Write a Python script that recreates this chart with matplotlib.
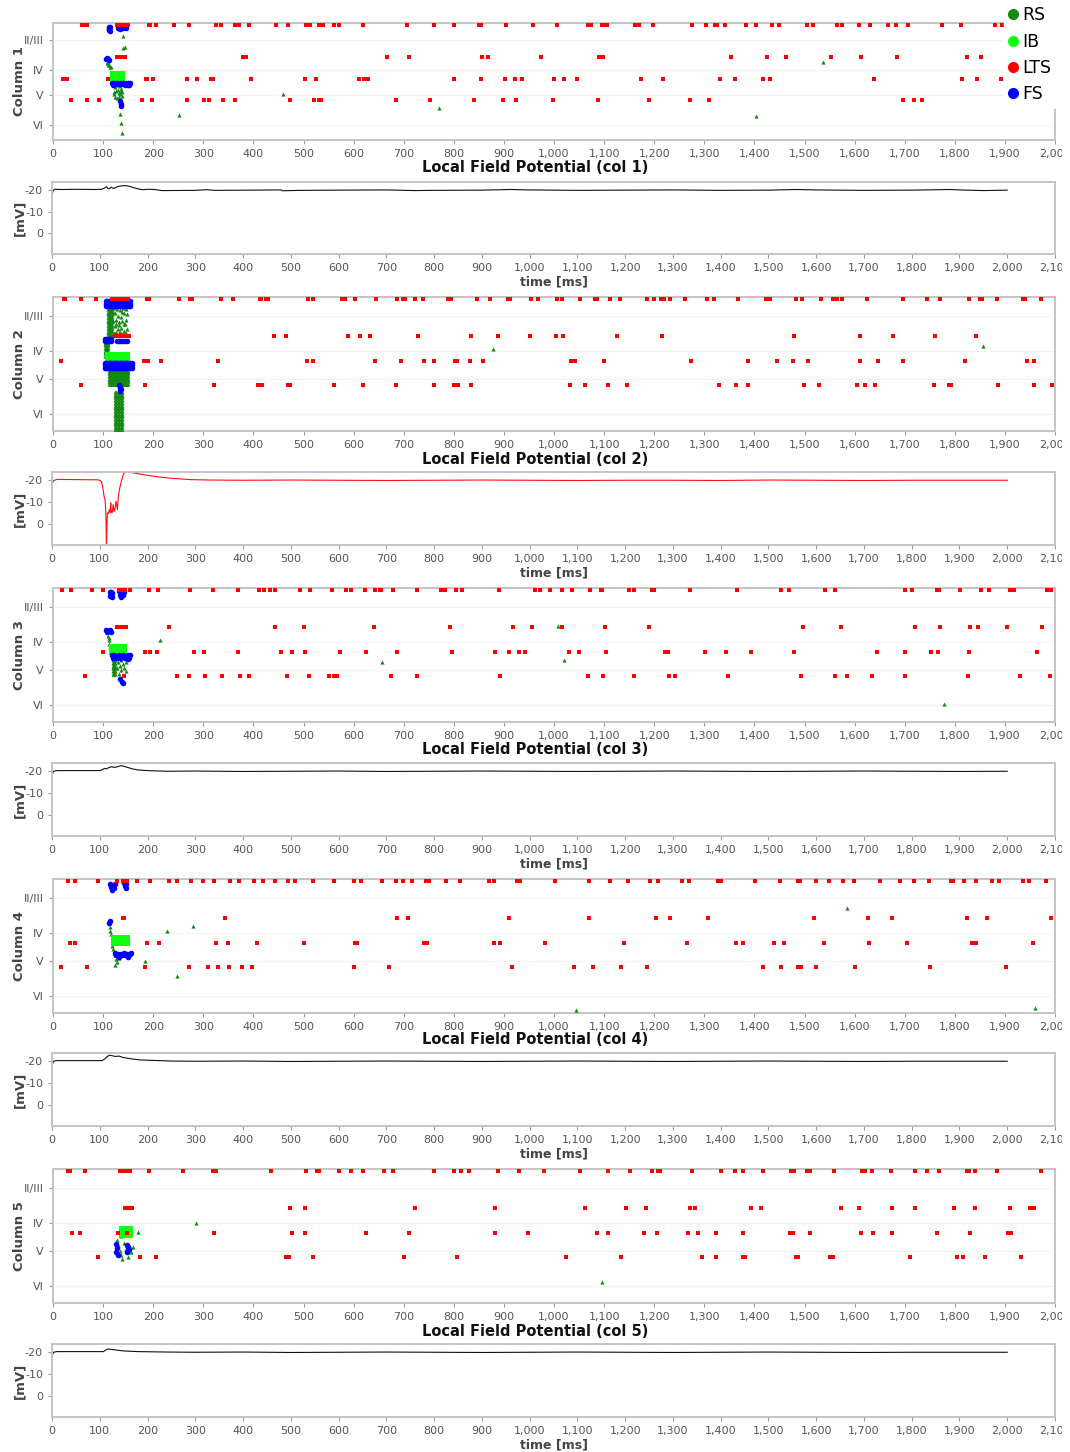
import matplotlib
matplotlib.use("Agg")
import matplotlib.pyplot as plt
from matplotlib.lines import Line2D
from matplotlib.ticker import FuncFormatter
from matplotlib.transforms import Bbox, TransformedBbox

plt.rcParams["axes.unicode_minus"] = False
plt.rcParams["font.family"] = "DejaVu Sans"

W, H = 1070, 1452

# cortical layers on the depth axis (0 = top of column, 100 = bottom)
layer_names = ["II/III", "IV", "V", "VI"]
layer_depths = [14.2, 40, 61.5, 87]

# depth of the four rows of LTS cells
lts_row_depths = [1.6, 29, 48, 66]

# ---------------- column 1 ----------------
col1_lts = [
    [58.5, 66.5, 68.5, 128, 130, 132, 134, 136, 138, 140, 142, 144, 146, 148, 150, 191.3, 194.6,
     205.2, 242.4, 271, 324.8, 334.7, 362.6, 370.6, 390.5, 445.6, 468.9, 504, 512.7, 531.3, 539.2,
     561.2, 571.8, 619.6, 706.6, 759.7, 800.2, 850.6, 854.6, 905.1, 957.5, 1006, 1067.7, 1074.5,
     1095.6, 1100.3, 1105.6, 1162.1, 1170, 1197.2, 1275.6, 1302.8, 1321.4, 1324.7, 1342, 1383.8,
     1402.4, 1434.2, 1449, 1504.8, 1517.3, 1564.5, 1575.7, 1608.3, 1630.2, 1666.1, 1683.2, 1706.5,
     1774.3, 1811.5, 1881.2, 1894.5],
    [128, 130, 132, 134, 136, 138, 140, 142, 144, 378.5, 385.5, 666, 711.2, 856, 868.6, 974.2,
     1089, 1097.7, 1353.3, 1425.7, 1462.2, 1553.2, 1613, 1684.6, 1823.5, 1852],
    [20, 26.6, 28.6, 109, 184.7, 186.7, 200, 267, 288.3, 316.2, 319.5, 395.2, 503.4, 525.3, 610.3,
     621.6, 629.6, 800.9, 854, 901.2, 922.4, 935.7, 1000.1, 1020.6, 1045.9, 1173.4, 1217.2, 1332,
     1360.6, 1417.7, 1431, 1639.5, 1814.2, 1843.4, 1891.9],
    [36.6, 67.8, 91, 177.4, 197.3, 267, 300.9, 311.5, 339.4, 363.3, 472.8, 520, 530, 535.3, 684.6,
     751.7, 840.7, 897.8, 924.3, 998.7, 1087, 1189.3, 1271.6, 1310.2, 1695.9, 1717.8, 1735.1],
]
col1_rs = [(107, 34), (109.6, 36), (113, 38), (116.3, 38), (110, 33), (112, 36), (139.5, 10.8),
           (139.5, 21.1), (142.8, 20.5), (121, 52), (123, 55), (125, 58), (122, 61), (124, 63),
           (127, 53), (129, 57), (131, 60), (128, 64), (133, 54), (135, 58), (137, 62), (139, 52),
           (126, 50), (132, 63), (136, 56), (121, 59), (138, 59), (130, 51), (134, 61),
           (133.5, 77.8), (134.9, 85.2), (137.5, 94.3), (252.4, 78.6), (458.3, 60.4),
           (769.6, 72.6), (1402.4, 79.2), (1536, 33.6)]
col1_ib_t = [120, 122, 124, 126, 128, 130, 132, 134, 136, 138]
col1_ib_d = [44, 46, 48]
col1_fs = [(111, 3), (112, 5), (113, 7), (112, 4), (111, 6), (113, 3), (129, 4), (131, 3), (134, 5),
           (137, 3), (140, 4), (143, 3), (146, 4), (133, 2), (106, 31), (108, 30), (110, 31),
           (112, 32), (117, 51), (119, 53), (121, 51), (124, 52), (127, 51), (130, 52), (133, 51),
           (136, 52), (139, 51), (142, 52), (145, 51), (148, 52), (150, 51), (152, 53), (154, 51),
           (149, 53), (144, 53), (134, 67), (136, 69), (135, 71)]

# ---------------- column 2 ----------------
col2_lts = [
    [21.3, 24.6, 56.5, 85, 118, 120, 122, 124, 126, 128, 130, 132, 134, 136, 138, 140, 142, 144,
     146, 148, 150, 187.3, 191.9, 251, 273, 277, 335.4, 359.2, 412.4, 414.4, 424.4, 428.3, 508.7,
     518, 577.1, 583.7, 603.6, 644.8, 686.6, 699.2, 703.2, 722.5, 737.8, 788.9, 793.6, 847.3,
     871.3, 909.1, 912.5, 955, 968.3, 1006.8, 1016.7, 1052.6, 1081.1, 1086.4, 1111, 1132.3,
     1185.3, 1199.2, 1214.5, 1219.1, 1232.4, 1261, 1305.6, 1319.5, 1366.5, 1423.7, 1430.3, 1484,
     1496, 1533.8, 1557.7, 1560.5, 1565.1, 1575.1, 1624.9, 1697.2, 1744.4, 1769.7, 1828.7, 1850,
     1854, 1885.2, 1935.6, 1941, 1972.1],
    [123, 125, 127, 129, 131, 133, 135, 137, 139, 141, 143, 145, 147, 149, 151, 441.6, 465.5,
     588.4, 612.3, 632.9, 729.2, 834.1, 887.9, 952.3, 1004, 1018.7, 1125.6, 1215.2, 1479.5,
     1611.6, 1677.4, 1760.4, 1842.7],
    [15.4, 182, 184, 186, 188, 189, 215.9, 328.7, 506, 519.4, 643.5, 694, 740.5, 760.4, 802.2,
     806.9, 831.5, 858, 1033.9, 1042.6, 1099.7, 1274.3, 1387.8, 1445.6, 1476.2, 1506.7, 1611.6,
     1647.5, 1695.9, 1820.1, 1944.9, 1958.2],
    [55.2, 183.3, 320.8, 409.1, 417.1, 468.2, 473.5, 561.2, 618.3, 685.3, 761.1, 800.9, 808.8,
     834.7, 1031.3, 1061.8, 1107.6, 1145.5, 1328.8, 1364, 1386.6, 1498.1, 1528, 1605.7, 1621.7,
     1641.6, 1758.4, 1787.6, 1791.6, 1886.6, 1958.2, 1994],
]
col2_rs_blocks = [
    ([109, 111, 113, 115, 117], [5, 7, 9, 11, 13, 15, 17, 19, 21, 23, 25, 27, 29]),
    ([104, 106, 108, 110], [32, 34, 36, 38, 40, 42, 44]),
    ([111, 113, 115, 117, 119, 121, 123, 125, 127, 129, 131, 133, 135, 137, 139, 141, 143, 145,
      147, 149], [53, 55, 57, 59, 61, 63, 65]),
    ([123, 126, 129, 132, 135, 138], [71, 73, 75, 77, 79, 81, 83, 85, 87, 89, 91, 93, 95, 97, 99]),
]
col2_rs = [(121, 8), (124, 12), (127, 9), (130, 14), (133, 10), (136, 15), (139, 8), (142, 12),
           (145, 9), (148, 13), (120, 18), (123, 22), (126, 17), (129, 24), (132, 19), (135, 23),
           (138, 18), (141, 25), (144, 20), (147, 24), (122, 27), (125, 26), (128, 28), (131, 27),
           (134, 26), (137, 28), (140, 27), (143, 28), (146, 27), (120, 11), (137, 11), (141, 20),
           (131, 21), (125, 20), (146, 17), (878.5, 38.8), (1857, 36.8)]
col2_ib_t = [110, 112, 114, 116, 118, 120, 122, 124, 126, 128, 130, 132, 134, 136, 138, 140,
             142, 144, 146, 148]
col2_ib_d = [43.5, 45.5, 47.5]
col2_fs_blocks = [
    ([106, 108.5, 111, 113.5, 116, 118.5, 121, 123.5, 126, 128.5, 131, 133.5, 136, 138.5, 141,
      143.5, 146, 148.5, 151, 153], [3, 5, 6.5]),
    ([103, 106, 109, 112, 115], [31, 33]),
    ([127, 131, 135, 139, 143, 147], [33]),
    ([103, 106, 108.5, 111, 113.5, 116, 118.5, 121, 123.5, 126, 128.5, 131, 133.5, 136, 138.5,
      141, 143.5, 146, 148.5, 151, 154, 158], [49, 51, 53]),
]
col2_fs = [(132, 66), (134, 68), (133, 70), (135, 69)]

# ---------------- column 3 ----------------
col3_lts = [
    [18.7, 35.2, 77.7, 100.3, 131, 133, 135, 137, 139, 141, 143, 152.8, 191.9, 209.9, 273, 320.1,
     369.3, 410.4, 421.7, 433, 442.3, 492.1, 512, 555.9, 585.7, 595.7, 622.2, 642.2, 652.1, 655.4,
     679.3, 727.1, 773.6, 782.9, 803.5, 816.8, 890.5, 962.2, 971.5, 991.5, 1016, 1035.2, 1071.1,
     1093.6, 1095.6, 1149.4, 1158.7, 1195.9, 1200.5, 1272.2, 1365.8, 1452.1, 1468.1, 1541.1,
     1560.4, 1699.8, 1701.2, 1713.8, 1764.9, 1768.9, 1810.8, 1851.3, 1868.6, 1909.8, 1917.7,
     1984.8, 1991.4],
    [128, 130, 132, 134, 136, 138, 140, 142, 144, 146, 231.2, 443.6, 501.3, 641.5, 791.6, 917.7,
     956.9, 1016, 1101.6, 1189.3, 1497.4, 1573.7, 1721.2, 1769.7, 1829.4, 1847.3, 1905.1, 1974.8],
    [99.7, 184, 193.3, 207.2, 280.9, 301.5, 369.9, 454.2, 477.5, 503.4, 573.1, 625.6, 686, 795.6,
     881.9, 910.5, 930.4, 943, 1029.2, 1049.8, 1103.6, 1221.8, 1228.4, 1301.5, 1344, 1392.5,
     1478.1, 1644.8, 1699.8, 1753, 1766.9, 1828.7, 1964.2],
    [64.5, 141.5, 247.1, 271, 303.5, 336.7, 372.6, 391.8, 466.2, 511.3, 550.5, 561.2, 567.8,
     675.4, 727.1, 892.5, 1067.8, 1097, 1160.1, 1230.4, 1241.1, 1346.7, 1492.1, 1561.8, 1585.7,
     1635.5, 1701.2, 1826.7, 1929.6, 1990.8],
]
col3_rs_blocks = [
    ([120, 122, 124], [52, 54, 56, 58, 60, 62, 64]),
]
col3_rs = [(110, 36), (111, 39), (112, 42), (113, 44), (111, 37), (127, 52), (130, 55), (133, 58),
           (136, 54), (139, 57), (142, 60), (145, 55), (148, 53), (128, 60), (135, 61), (141, 52),
           (146, 62), (131, 64), (213.9, 38.8), (657.5, 55.5), (1007, 28.4), (1020.6, 54),
           (1778.3, 86.8)]
col3_ib_t = [118, 120, 122, 124, 126, 128, 130, 132, 134, 136, 138, 140, 142]
col3_ib_d = [44, 46, 48]
col3_fs = [(113, 3), (115, 5), (117, 7), (114, 6), (116, 3), (118, 4), (132, 2.5), (134, 5),
           (136, 7), (138, 3), (140, 5), (142, 3), (135, 4), (105, 31), (107, 33), (110, 32),
           (113, 31), (115, 33), (117, 50), (119, 52), (122, 50), (125, 51), (128, 52), (131, 50),
           (134, 52), (137, 51), (140, 50), (143, 52), (146, 51), (149, 50), (152, 52), (154, 50),
           (150, 53), (134, 68), (137, 70), (140, 71)]

# ---------------- column 4 ----------------
col4_lts = [
    [29.3, 43.2, 89, 126.9, 139, 141, 143, 145, 147, 166.7, 194.6, 232.5, 248.4, 276.3, 300.2,
     322.1, 354, 371.9, 401.8, 419.7, 443.6, 469.5, 483.5, 519.3, 561.2, 601, 614.9, 656.8, 684.7,
     698.6, 716.5, 744.4, 750.4, 784.3, 812.1, 869.9, 879.8, 925.7, 931.6, 1001.4, 1069.1, 1110.9,
     1148.7, 1192.6, 1208.5, 1256.3, 1270.3, 1328, 1334, 1401.8, 1451.6, 1487.4, 1491.4, 1523.3,
     1549.2, 1577.1, 1599, 1650.8, 1690.7, 1718.6, 1748.4, 1792.3, 1796.2, 1818.1, 1842, 1873.9,
     1887.9, 1935.7, 1947.6, 1981.5],
    [140, 142, 344, 686.6, 708.6, 909.8, 1069.1, 1202.6, 1232.5, 1308.2, 1519.3, 1626.9, 1674.7,
     1824.1, 1864, 1991.4],
    [33.3, 43.2, 188.6, 212.5, 326, 350, 407.8, 501.4, 603, 607, 740.4, 746.4, 879.8, 891.8,
     981.5, 1138.8, 1266.3, 1363.9, 1377.8, 1439.6, 1459.5, 1539.2, 1628.8, 1704.5, 1834, 1842,
     1955.6],
    [15.3, 67.1, 182.7, 272.3, 310.2, 330.1, 352, 377.9, 397.8, 601, 670.7, 915.7, 1039.2, 1077,
     1132.8, 1184.7, 1417.8, 1453.6, 1487.4, 1493.4, 1523.3, 1601, 1750.4, 1901.8],
]
col4_rs = [(112, 33), (113, 36), (114, 38.5), (115, 41), (117, 50), (119, 52), (121, 55),
           (123, 57), (126, 60), (128, 62), (131, 59), (135, 56), (124, 64), (182.7, 61.2),
           (226.7, 38.8), (248.4, 72.4), (278.7, 35), (1043.2, 98), (1585, 21.6), (1959.7, 96.3)]
col4_ib_t = [122, 124, 126, 128, 130, 132, 134, 136, 138, 140, 142, 144, 146, 148]
col4_ib_d = [44, 46, 48]
col4_fs = [(113, 4), (115, 6), (117, 8), (119, 5), (121, 7), (123, 4), (141, 3), (143, 5), (145, 7),
           (146, 4), (113, 31), (112, 33), (123, 55), (126, 57), (129, 56), (132, 58), (135, 56),
           (138, 57), (141, 55), (144, 57), (147, 56), (150, 58), (153, 56), (155, 55)]

# ---------------- column 5 ----------------
col5_lts = [
    [29.3, 33.3, 63.1, 133, 135, 138, 141, 144, 147, 150, 153, 192.6, 260.4, 320.1, 326.1, 435.6,
     505.4, 527.3, 531.3, 571.1, 595, 618.9, 660.8, 678.7, 760.4, 800.2, 814.1, 830.1, 887.8,
     929.7, 979.5, 1051.2, 1107, 1150.8, 1196.6, 1208.5, 1212.5, 1276.3, 1334, 1361.9, 1377.8,
     1417.7, 1473.5, 1479.5, 1505.4, 1511.4, 1559.2, 1614.9, 1620.9, 1634.9, 1672.7, 1720.5,
     1744.4, 1768.3, 1824.1, 1828.1, 1840, 1883.8, 1971.5],
    [143, 146, 149, 152, 155, 158, 473.5, 503.4, 722.5, 881.8, 1061.1, 1144.7, 1184.6, 1272.3,
     1282.2, 1393.8, 1413.7, 1573.1, 1609, 1674.7, 1720.5, 1798.2, 1840, 1909.7, 1949.6, 1957.6],
    [37.2, 53.2, 128.9, 146.8, 322.1, 477.5, 503.4, 624.9, 710.6, 881.8, 947.6, 1085, 1107,
     1178.7, 1204.6, 1268.3, 1288.2, 1324, 1377.8, 1471.5, 1477.5, 1511.4, 1613, 1636.9, 1674.7,
     1764.4, 1830.1, 1905.8, 1911.8],
    [89.2, 172.8, 204.7, 465.5, 471.5, 519.3, 700.6, 806.2, 1023.3, 1132.8, 1296.2, 1324, 1377.8,
     1381.8, 1483.5, 1487.4, 1551.2, 1557.2, 1710.6, 1804.2, 1816.1, 1859.9, 1931.6],
]
col5_rs = [(128, 53), (130, 57), (133, 61), (135, 64), (138, 67), (141, 55), (145, 60),
           (150, 66), (156, 62), (136, 50), (160, 58), (170, 47), (284.6, 40.3), (1095.8, 84.3)]
col5_ib_t = [137, 139, 141, 143, 145, 147, 149, 151, 153]
col5_ib_d = [45, 47, 49]
col5_fs = [(125, 56), (127, 59), (126, 62), (129, 64), (147, 57), (150, 58), (152, 60), (148, 62)]

# ---------------- local field potentials (time [ms], mV) ----------------
lfp1 = [(0, -17.5), (2, -19.6), (5, -20.4), (20, -20.3), (50, -20.4), (90, -20.3), (104, -20.4),
        (110, -21.0), (114, -21.6), (117, -20.8), (120, -20.6), (124, -21.4), (128, -20.8),
        (132, -21.1), (138, -21.7), (146, -22.0), (154, -22.1), (162, -21.8), (170, -21.2),
        (180, -20.6), (190, -20.2), (200, -20.4), (215, -20.3), (230, -19.8), (300, -19.9),
        (325, -20.2), (340, -19.9), (420, -20.0), (480, -20.1), (482, -19.7), (520, -19.9),
        (600, -20.0), (700, -20.1), (760, -19.8), (800, -19.9), (900, -20.0), (960, -20.3),
        (1000, -20.1), (1100, -19.9), (1200, -20.0), (1300, -20.1), (1400, -19.9),
        (1500, -20.0), (1560, -20.3), (1600, -20.1), (1700, -19.9), (1800, -20.0),
        (1880, -20.3), (1900, -20.1), (1950, -19.8), (2000, -20.0)]
lfp2 = [(0, -18.0), (3, -19.8), (10, -20.4), (50, -20.3), (95, -20.2), (100, -20.0),
        (104, -19.2), (107, -15.8), (109, -12.7), (111, -11.0), (112, -8.0), (113, -3.0),
        (114, 12.0), (115, 2.0), (116, -5.0), (118, -4.6), (120, -6.5), (122, -5.0), (123, -9.6),
        (124, -5.5), (126, -5.0), (128, -8.8), (130, -5.5), (132, -7.0), (134, -10.4), (136, -8.0),
        (137, -6.5), (139, -12.7), (142, -16.5), (144, -18.5), (147, -21.0), (150, -23.0),
        (155, -23.9), (160, -23.8), (170, -23.4), (185, -22.8), (205, -22.1), (225, -21.5),
        (245, -21.0), (270, -20.6), (290, -20.3), (330, -20.1), (400, -20.0), (500, -20.1),
        (600, -20.0), (700, -19.9), (800, -20.0), (900, -20.1), (1000, -20.0), (1100, -19.9),
        (1200, -20.0), (1300, -20.0), (1400, -19.9), (1500, -20.1), (1600, -20.0), (1700, -19.9),
        (1800, -20.0), (1900, -20.0), (2000, -20.0)]
lfp3 = [(0, -18.0), (3, -20.0), (10, -20.3), (100, -20.3), (106, -20.8), (110, -21.3),
        (114, -21.1), (118, -21.6), (124, -22.1), (130, -21.8), (136, -22.0), (144, -22.6),
        (150, -22.3), (158, -21.8), (168, -21.1), (180, -20.6), (200, -20.3), (240, -20.0),
        (300, -20.1), (400, -19.9), (500, -20.0), (600, -20.1), (700, -19.9), (800, -20.0),
        (900, -20.1), (1000, -20.0), (1100, -19.9), (1200, -20.0), (1300, -20.1), (1400, -20.0),
        (1500, -19.9), (1600, -20.0), (1700, -20.1), (1800, -20.0), (1900, -19.9), (2000, -20.0)]
lfp4 = [(0, -18.0), (3, -20.0), (10, -20.3), (105, -20.3), (110, -21.0), (115, -22.0),
        (120, -22.8), (127, -22.5), (133, -22.2), (140, -22.4), (148, -21.8), (158, -21.4),
        (170, -21.0), (185, -20.6), (210, -20.4), (250, -20.1), (300, -20.0), (400, -20.1),
        (500, -19.9), (600, -20.0), (700, -20.1), (800, -20.0), (900, -19.9), (1000, -20.0),
        (1100, -20.1), (1200, -20.0), (1300, -19.9), (1400, -20.0), (1500, -20.1), (1600, -20.0),
        (1700, -19.9), (1800, -20.0), (1900, -20.0), (2000, -20.0)]
lfp5 = [(0, -18.0), (3, -20.0), (10, -20.3), (108, -20.3), (112, -21.0), (118, -21.5),
        (125, -21.3), (135, -21.0), (150, -20.6), (180, -20.3), (240, -20.1), (300, -20.0),
        (400, -20.1), (500, -19.9), (600, -20.0), (700, -20.1), (800, -20.0), (900, -19.9),
        (1000, -20.0), (1100, -20.1), (1200, -20.0), (1300, -19.9), (1400, -20.0), (1500, -20.1),
        (1600, -20.0), (1700, -19.9), (1800, -20.0), (1900, -20.0), (2000, -20.0)]

columns = [
    dict(lts=col1_lts, rs=col1_rs, rs_blocks=[], ib=(col1_ib_t, col1_ib_d), fs=col1_fs,
         fs_blocks=[], lfp=lfp1, lfp_color="#111111"),
    dict(lts=col2_lts, rs=col2_rs, rs_blocks=col2_rs_blocks, ib=(col2_ib_t, col2_ib_d), fs=col2_fs,
         fs_blocks=col2_fs_blocks, lfp=lfp2, lfp_color="#ff1010"),
    dict(lts=col3_lts, rs=col3_rs, rs_blocks=col3_rs_blocks, ib=(col3_ib_t, col3_ib_d), fs=col3_fs,
         fs_blocks=[], lfp=lfp3, lfp_color="#111111"),
    dict(lts=col4_lts, rs=col4_rs, rs_blocks=[], ib=(col4_ib_t, col4_ib_d), fs=col4_fs,
         fs_blocks=[], lfp=lfp4, lfp_color="#111111"),
    dict(lts=col5_lts, rs=col5_rs, rs_blocks=[], ib=(col5_ib_t, col5_ib_d), fs=col5_fs,
         fs_blocks=[], lfp=lfp5, lfp_color="#111111"),
]

RS_C, IB_C, LTS_C, FS_C = "#128a12", "#10ff10", "#ff0000", "#0000ff"
GREY = "#555555"
SPINE = "#c4c4c4"

raster_rows = [(23, 140), (297, 431), (588, 722), (879, 1013), (1169, 1303)]
lfp_rows = [(182, 254), (472, 545), (763, 836), (1053, 1126), (1344, 1417)]
title_rows = [168, 459, 749, 1040, 1331]

fig = plt.figure(figsize=(W / 100, H / 100), dpi=100)
clip_box = TransformedBbox(Bbox.from_extents(0, 0, 1062 / W, 1), fig.transFigure)
thousands = FuncFormatter(lambda v, p: f"{v:,.0f}")


def px_axes(left, top, right, bottom):
    return fig.add_axes([left / W, 1 - bottom / H, (right - left) / W, (bottom - top) / H])


def style(ax):
    for s in ax.spines.values():
        s.set_color(SPINE)
        s.set_linewidth(1.4)
    ax.tick_params(colors="#9a9a9a", labelcolor=GREY, labelsize=8, length=3, width=0.8)
    ax.xaxis.set_major_formatter(thousands)


def grid_points(blocks):
    pts = []
    for ts, ds in blocks:
        pts += [(t, d) for t in ts for d in ds]
    return pts


def scatter(ax, pts, marker, size, color):
    if pts:
        ax.scatter([p[0] for p in pts], [p[1] for p in pts], marker=marker, s=size, color=color,
                   linewidths=0, zorder=3)


for i, col in enumerate(columns):
    # spike raster
    top, bottom = raster_rows[i]
    ax = px_axes(53, top, 1055, bottom)
    style(ax)
    scatter(ax, grid_points(col["rs_blocks"]) + col["rs"], "^", 9, RS_C)
    scatter(ax, grid_points([col["ib"]]), "s", 13, IB_C)
    scatter(ax, grid_points(col["fs_blocks"]) + col["fs"], "o", 16, FS_C)
    lts_pts = [(t, lts_row_depths[r]) for r, row in enumerate(col["lts"]) for t in row]
    scatter(ax, lts_pts, "s", 6, LTS_C)
    ax.set_xlim(0, 2000)
    ax.set_ylim(100, 0)
    ax.set_xticks(range(0, 2001, 100))
    ax.set_yticks(layer_depths)
    ax.set_yticklabels(layer_names)
    ax.yaxis.grid(True, color="#f3f3f3", lw=0.8)
    ax.set_axisbelow(True)
    ax.set_ylabel(f"Column {i + 1}", fontsize=9.5, fontweight="bold", color="#444444")
    ax.yaxis.set_label_coords(-0.027, 0.5)
    for lbl in ax.get_xticklabels():
        lbl.set_clip_box(clip_box)
        lbl.set_clip_on(True)

    fig.text(0.5, 1 - title_rows[i] / H, f"Local Field Potential (col {i + 1})", ha="center",
             va="center", fontsize=10.5, fontweight="bold", color="#111111")

    # local field potential
    top, bottom = lfp_rows[i]
    ax = px_axes(52, top, 1055, bottom)
    style(ax)
    ax.plot([p[0] for p in col["lfp"]], [p[1] for p in col["lfp"]], color=col["lfp_color"],
            lw=0.8)
    ax.set_xlim(0, 2100)
    ax.set_ylim(9.8, -23.8)
    ax.set_xticks(range(0, 2101, 100))
    ax.set_yticks([-20, -10, 0])
    ax.set_ylabel("[mV]", fontsize=9.5, fontweight="bold", color="#444444")
    ax.yaxis.set_label_coords(-0.026, 0.5)
    ax.set_xlabel("time [ms]", fontsize=9, fontweight="bold", color="#444444", labelpad=2)
    for lbl in ax.get_xticklabels():
        lbl.set_clip_box(clip_box)
        lbl.set_clip_on(True)

handles = [Line2D([], [], ls="", marker="o", ms=7, color=c) for c in (RS_C, IB_C, LTS_C, FS_C)]
fig.legend(handles, ["RS", "IB", "LTS", "FS"], loc="upper right",
           bbox_to_anchor=(1056 / W, 1 - 2 / H), frameon=True, facecolor="white",
           edgecolor="white", framealpha=1, fontsize=12.5, handlelength=0.6, handletextpad=0.25,
           borderpad=0.25, labelspacing=0.48, borderaxespad=0)

fig.savefig("out.png", dpi=100)
